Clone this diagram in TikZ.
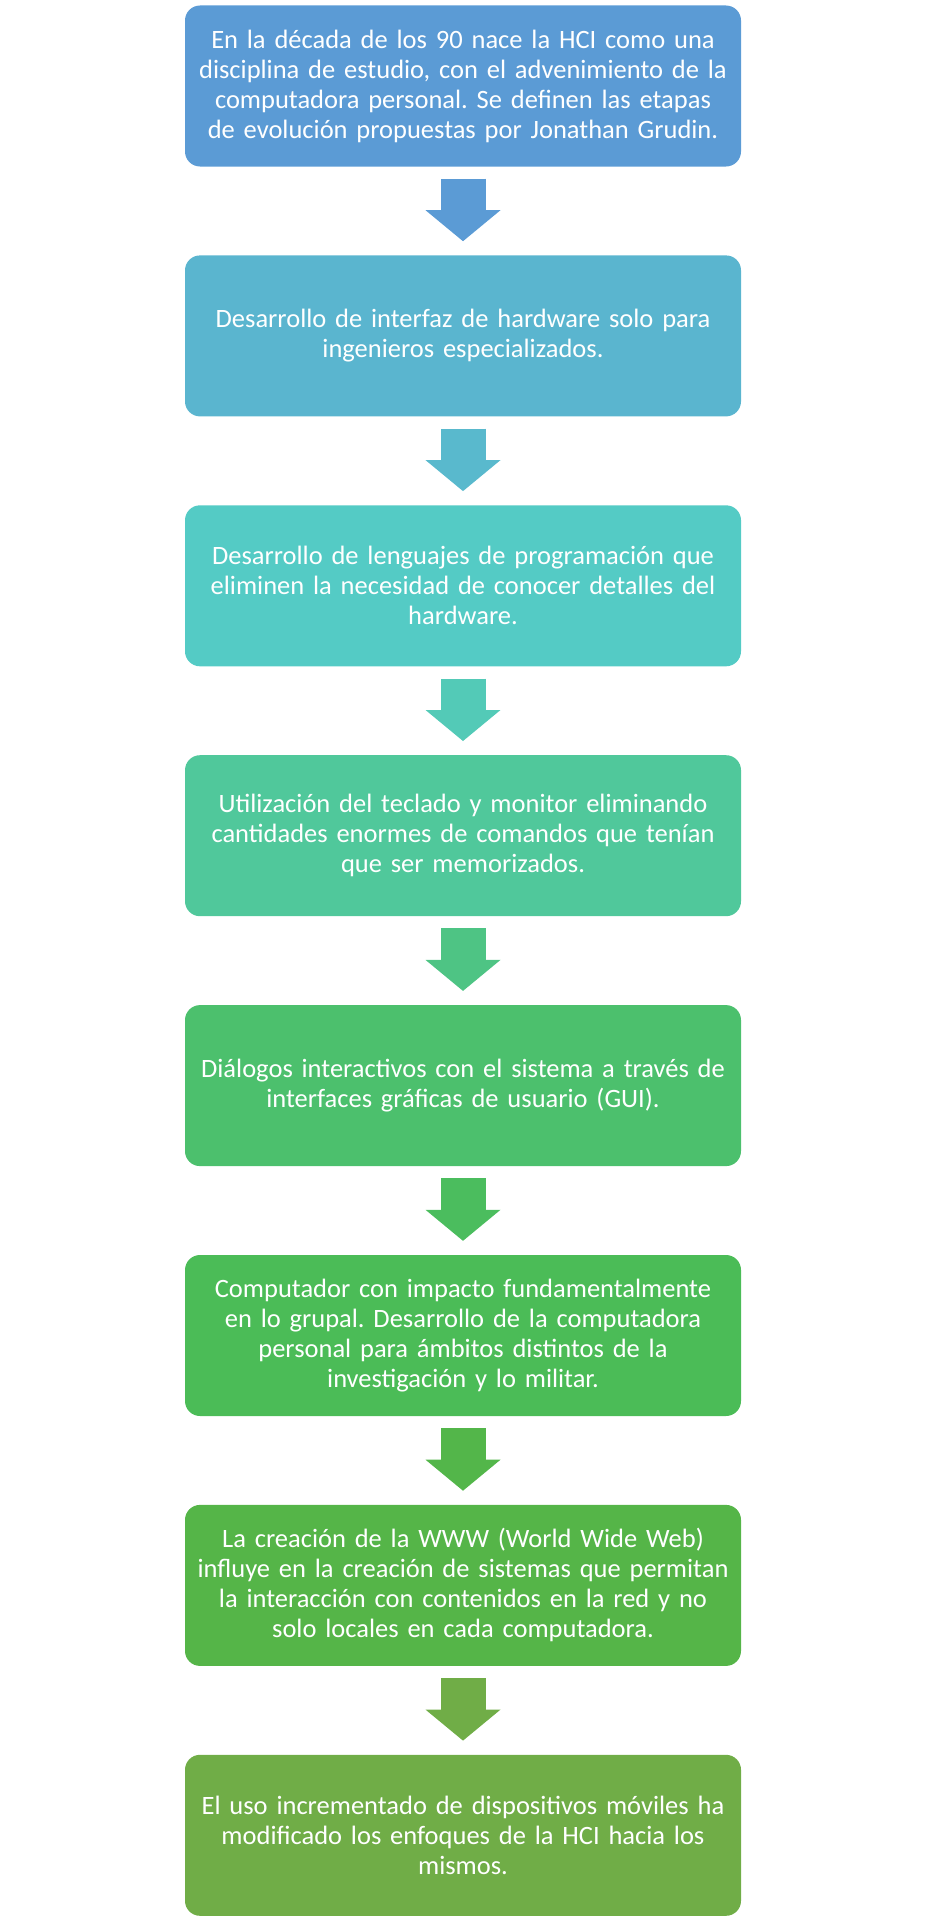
\documentclass[tikz,border=0pt]{standalone}
\usepackage{fontspec}
\setmainfont{Carlito}[WordSpace=0.8]
\frenchspacing
\usetikzlibrary{positioning,arrows.meta}
\definecolor{etapaA}{HTML}{5B9BD5}
\definecolor{etapaB}{HTML}{5AB5CF}
\definecolor{etapaC}{HTML}{54CBC5}
\definecolor{etapaD}{HTML}{50C89B}
\definecolor{etapaE}{HTML}{4CC06D}
\definecolor{etapaF}{HTML}{4BBC57}
\definecolor{etapaG}{HTML}{55B548}
\definecolor{etapaH}{HTML}{70AD47}
\begin{document}
\begin{tikzpicture}[
        etapa/.style  = {rectangle, rounded corners=15pt,
                         minimum width=556pt, minimum height=161pt,
                         text width=556pt, inner sep=0pt, align=center,
                         text=white, font=\fontsize{26.5}{30}\selectfont},
        flecha/.style = {line width=45pt,
                         -{Triangle[width=75pt,length=31pt,line width=0pt]},
                         shorten <=12pt, shorten >=14pt},
    node distance = 88.5pt
                        ]
    \useasboundingbox (0,0) rectangle (925pt,-1919pt);
    % etapas
    \node[etapa, fill=etapaA] (e1) at (463pt,-86pt)
        {En la década de los 90 nace la HCI como una\\
         disciplina de estudio, con el advenimiento de la\\
         computadora personal. Se definen las etapas\\
         de evolución propuestas por Jonathan Grudin.};
    \node[etapa, fill=etapaB, below=of e1] (e2)
        {Desarrollo de interfaz de hardware solo para\\
         ingenieros especializados.};
    \node[etapa, fill=etapaC, below=of e2] (e3)
        {Desarrollo de lenguajes de programación que\\
         eliminen la necesidad de conocer detalles del\\
         hardware.};
    \node[etapa, fill=etapaD, below=of e3] (e4)
        {Utilización del teclado y monitor eliminando\\
         cantidades enormes de comandos que tenían\\
         que ser memorizados.};
    \node[etapa, fill=etapaE, below=of e4] (e5)
        {Diálogos interactivos con el sistema a través de\\
         interfaces gráficas de usuario (GUI).};
    \node[etapa, fill=etapaF, below=of e5] (e6)
        {Computador con impacto fundamentalmente\\
         en lo grupal. Desarrollo de la computadora\\
         personal para ámbitos distintos de la\\
         investigación y lo militar.};
    \node[etapa, fill=etapaG, below=of e6] (e7)
        {La creación de la WWW (World Wide Web)\\
         influye en la creación de sistemas que permitan\\
         la interacción con contenidos en la red y no\\
         solo locales en cada computadora.};
    \node[etapa, fill=etapaH, below=of e7] (e8)
        {El uso incrementado de dispositivos móviles ha\\
         modificado los enfoques de la HCI hacia los\\
         mismos.};

    % flechas
    \draw[flecha, etapaA]          (e1) -- (e2);
    \draw[flecha, etapaB!83!etapaC] (e2) -- (e3);
    \draw[flecha, etapaC!67!etapaD] (e3) -- (e4);
    \draw[flecha, etapaD!50!etapaE] (e4) -- (e5);
    \draw[flecha, etapaE!33!etapaF] (e5) -- (e6);
    \draw[flecha, etapaF!17!etapaG] (e6) -- (e7);
    \draw[flecha, etapaH]          (e7) -- (e8);
\end{tikzpicture}
\end{document}
